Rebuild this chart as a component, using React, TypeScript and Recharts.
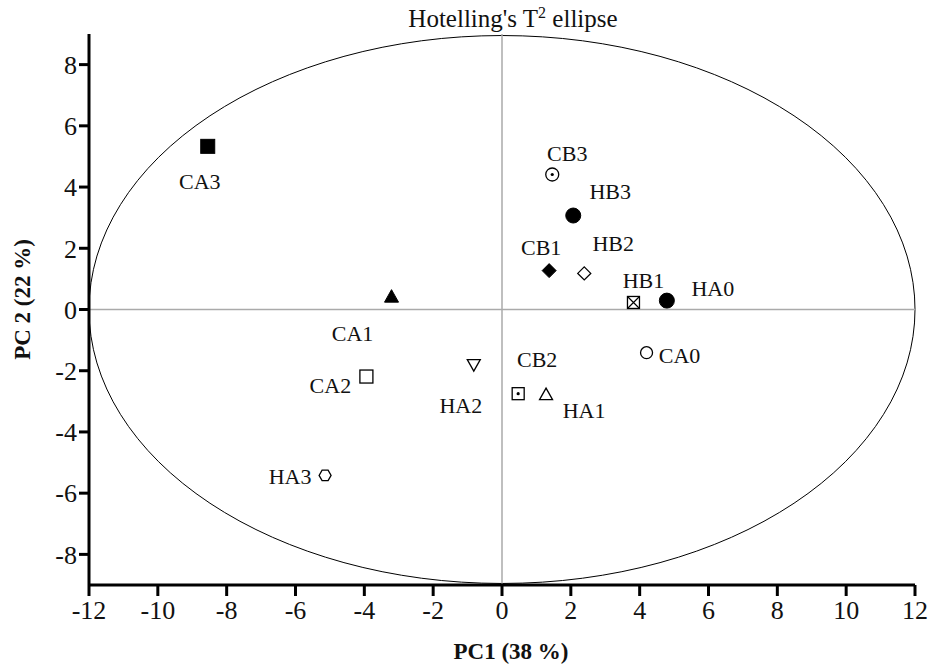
import {
  ScatterChart,
  Scatter,
  XAxis,
  YAxis,
  ReferenceLine,
  ReferenceArea,
  Label,
} from "recharts";

// scores on the first two components
const samples = ["CA3", "CB3", "HB3", "CB1", "HB2", "HB1", "HA0", "CA1", "CA0", "HA2", "CA2", "CB2", "HA1", "HA3"];
const pc1 = [-8.55, 1.46, 2.07, 1.37, 2.39, 3.82, 4.79, -3.21, 4.2, -0.82, -3.94, 0.47, 1.28, -5.14];
const pc2 = [5.33, 4.41, 3.07, 1.27, 1.18, 0.23, 0.29, 0.42, -1.41, -1.8, -2.19, -2.75, -2.78, -5.42];

const xTicks = [-12, -10, -8, -6, -4, -2, 0, 2, 4, 6, 8, 10, 12];
const yTicks = [-8, -6, -4, -2, 0, 2, 4, 6, 8];

// ellipse semi axes
const ellipseX = 12;
const ellipseY = 8.95;

const data = samples.map((name, i) => ({ name, x: pc1[i], y: pc2[i] }));

const FONT = "'Liberation Serif', 'Times New Roman', serif";

// marker style per sample
const markers: Record<string, string> = {
  CA3: "squareFilled",
  CB3: "circleDot",
  HB3: "circleFilled",
  CB1: "diamondFilled",
  HB2: "diamondOpen",
  HB1: "squareX",
  HA0: "circleFilled",
  CA1: "triangleFilled",
  CA0: "circleOpen",
  HA2: "triangleDown",
  CA2: "squareOpen",
  CB2: "squareDot",
  HA1: "triangleOpen",
  HA3: "hexagon",
};

// label offset from the marker, in px
const labelOffset: Record<string, [number, number]> = {
  CA3: [-8, 35],
  CB3: [15, -21],
  HB3: [37, -24],
  CB1: [-8, -23],
  HB2: [29, -30],
  HB1: [10, -22],
  HA0: [46, -12],
  CA1: [-39, 37],
  CA0: [33, 3],
  HA2: [-13, 41],
  CA2: [-36, 9],
  CB2: [19, -34],
  HA1: [38, 16],
  HA3: [-35, 1],
};

function Marker({ kind, cx, cy }: { kind: string; cx: number; cy: number }) {
  const open = { fill: "#fff", stroke: "#000", strokeWidth: 1.3 };
  const filled = { fill: "#000", stroke: "#000", strokeWidth: 1 };
  switch (kind) {
    case "squareFilled":
      return <rect x={cx - 7} y={cy - 7} width={14} height={14} {...filled} />;
    case "squareOpen":
      return <rect x={cx - 6.5} y={cy - 6.5} width={13} height={13} {...open} />;
    case "squareDot":
      return (
        <g>
          <rect x={cx - 6} y={cy - 6} width={12} height={12} {...open} />
          <circle cx={cx} cy={cy} r={1.6} fill="#000" />
        </g>
      );
    case "squareX":
      return (
        <g>
          <rect x={cx - 6} y={cy - 6} width={12} height={12} {...open} />
          <path d={`M${cx - 6},${cy - 6}L${cx + 6},${cy + 6}M${cx + 6},${cy - 6}L${cx - 6},${cy + 6}`} stroke="#000" strokeWidth={1.2} />
        </g>
      );
    case "circleFilled":
      return <circle cx={cx} cy={cy} r={7.5} {...filled} />;
    case "circleOpen":
      return <circle cx={cx} cy={cy} r={6} {...open} />;
    case "circleDot":
      return (
        <g>
          <circle cx={cx} cy={cy} r={6.5} {...open} />
          <circle cx={cx} cy={cy} r={1.6} fill="#000" />
        </g>
      );
    case "diamondFilled":
      return <path d={`M${cx},${cy - 7}L${cx + 7},${cy}L${cx},${cy + 7}L${cx - 7},${cy}Z`} {...filled} />;
    case "diamondOpen":
      return <path d={`M${cx},${cy - 6.5}L${cx + 6.5},${cy}L${cx},${cy + 6.5}L${cx - 6.5},${cy}Z`} {...open} />;
    case "triangleFilled":
      return <path d={`M${cx},${cy - 7}L${cx + 7},${cy + 5.5}L${cx - 7},${cy + 5.5}Z`} {...filled} />;
    case "triangleOpen":
      return <path d={`M${cx},${cy - 6.5}L${cx + 6.5},${cy + 5}L${cx - 6.5},${cy + 5}Z`} {...open} />;
    case "triangleDown":
      return <path d={`M${cx},${cy + 6.5}L${cx + 6.5},${cy - 5}L${cx - 6.5},${cy - 5}Z`} {...open} />;
    case "hexagon": {
      const r = 6;
      const pts = [0, 1, 2, 3, 4, 5]
        .map((k) => {
          const a = (Math.PI / 3) * k;
          return `${cx + r * Math.cos(a)},${cy + r * Math.sin(a)}`;
        })
        .join(" ");
      return <polygon points={pts} {...open} />;
    }
    default:
      return <circle cx={cx} cy={cy} r={6} {...open} />;
  }
}

function PointShape(props: any) {
  const { cx, cy, payload } = props;
  const [dx, dy] = labelOffset[payload.name] || [0, -20];
  return (
    <g>
      <Marker kind={markers[payload.name]} cx={cx} cy={cy} />
      <text
        x={cx + dx}
        y={cy + dy}
        textAnchor="middle"
        dominantBaseline="central"
        fontFamily={FONT}
        fontSize={22}
        fill="#111"
      >
        {payload.name}
      </text>
    </g>
  );
}

function EllipseShape(props: any) {
  const { x, y, width, height } = props;
  return (
    <ellipse
      cx={x + width / 2}
      cy={y + height / 2}
      rx={width / 2}
      ry={height / 2}
      fill="none"
      stroke="#000"
      strokeWidth={1}
    />
  );
}

export default function App() {
  return (
    <div style={{ position: "absolute", left: 0, top: 0, width: 934, height: 666, background: "#fff" }}>
      <ScatterChart width={934} height={666} margin={{ top: 34, right: 19, bottom: 0, left: 0 }}>
        <XAxis
          type="number"
          dataKey="x"
          domain={[-12, 12]}
          ticks={xTicks}
          interval={0}
          axisLine={{ stroke: "#000", strokeWidth: 3 }}
          tickLine={{ stroke: "#000", strokeWidth: 3 }}
          tickSize={11}
          tick={{ fill: "#111", fontSize: 26, fontFamily: FONT, dy: 3 }}
          height={81}
        >
          <Label
            value="PC1 (38 %)"
            position="insideBottom"
            offset={0}
            dx={9}
            dy={-7}
            style={{ fontFamily: FONT, fontSize: 23, fontWeight: "bold", fill: "#111" }}
          />
        </XAxis>
        <YAxis
          type="number"
          dataKey="y"
          domain={[-9, 9]}
          ticks={yTicks}
          interval={0}
          axisLine={{ stroke: "#000", strokeWidth: 3 }}
          tickLine={{ stroke: "#000", strokeWidth: 3 }}
          tickSize={10}
          tick={{ fill: "#111", fontSize: 26, fontFamily: FONT }}
          width={89}
        >
          <Label
            value="PC 2 (22 %)"
            angle={-90}
            position="insideLeft"
            offset={22}
            dy={-10}
            style={{ textAnchor: "middle", fontFamily: FONT, fontSize: 23, fontWeight: "bold", fill: "#111" }}
          />
        </YAxis>
        <ReferenceLine x={0} stroke="#aaa" strokeWidth={1.5} />
        <ReferenceLine y={0} stroke="#aaa" strokeWidth={1.5} />
        <ReferenceArea
          x1={-ellipseX}
          x2={ellipseX}
          y1={-ellipseY}
          y2={ellipseY}
          ifOverflow="visible"
          shape={EllipseShape}
        />
        <Scatter data={data} shape={PointShape} isAnimationActive={false} />
      </ScatterChart>
      <div
        style={{
          position: "absolute",
          left: 363,
          top: 4,
          width: 300,
          textAlign: "center",
          fontFamily: FONT,
          fontSize: 25,
          color: "#111",
          lineHeight: "30px",
        }}
      >
        Hotelling's T<sup style={{ fontSize: 16, lineHeight: 0 }}>2</sup> ellipse
      </div>
    </div>
  );
}
